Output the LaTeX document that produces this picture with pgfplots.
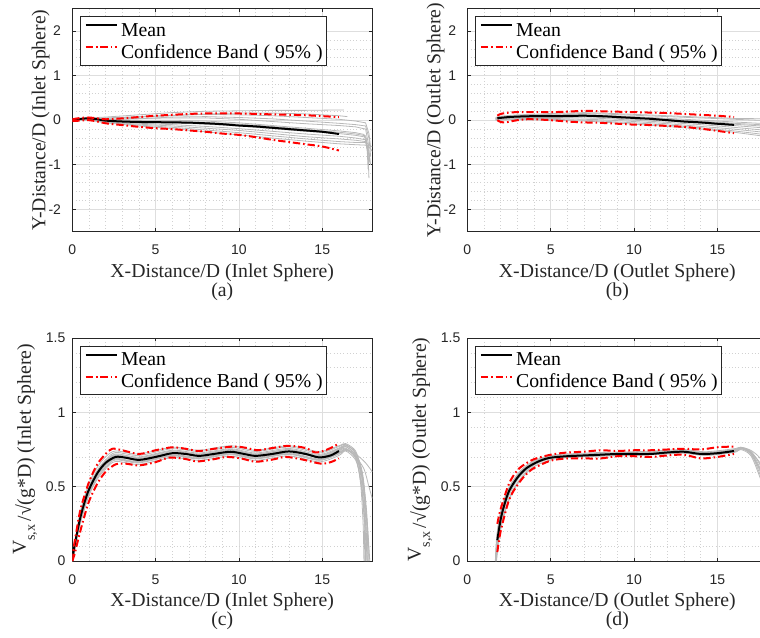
\documentclass[border=0pt]{standalone}
\usepackage{fontspec}
\setmainfont{Liberation Serif}
\newfontfamily\arialfont{Liberation Sans}
\usepackage{pgfplots}
\pgfplotsset{compat=1.18}

\definecolor{axgray}{gray}{0.15}
\definecolor{trajgray}{gray}{0.72}
\definecolor{gridmaj}{gray}{0.87}
\definecolor{gridmin}{gray}{0.82}

\newcommand{\labelfont}{\fontsize{14.8pt}{16pt}\selectfont}

\pgfplotsset{
  panel/.style={
    scale only axis, width=225pt, height=167.25pt,
    xmin=0, xmax=18, xtick={0,5,10,15}, minor x tick num=4, minor y tick num=4,
    tick align=inside, major tick length=2.5pt, minor tick length=0pt,
    grid=both,
    major grid style={gridmaj, line width=0.5pt},
    minor grid style={gridmin, line width=0.45pt, dash pattern=on 0.45pt off 2pt},
    axis line style={axgray, line width=0.55pt},
    every tick/.style={axgray, line width=0.55pt},
    tick label style={font=\arialfont\fontsize{10.5pt}{12pt}\selectfont, text=axgray},
    /pgf/number format/assume math mode=true,
    xticklabel style={anchor=base, inner sep=0pt, yshift=-17.25pt},
    every axis x label/.style={at={(axis description cs:0.5,-0.205)}, anchor=base,
      font=\labelfont, text=axgray},
    legend cell align=left,
    legend style={at={(axis description cs:0.027,0.966)}, anchor=north west,
      draw=axgray, line width=0.5pt, fill=white, inner xsep=3pt, inner ysep=2pt,
      font=\labelfont,
      nodes={inner sep=0pt, text height=13pt, text depth=3.3pt},
      column sep=2pt, row sep=0pt},
    legend image code/.code={\draw[##1] (0pt,3.5pt) -- (23.75pt,3.5pt);},
  },
  panel tag/.style={extra description/.code={
    \node[font=\labelfont, text=axgray, anchor=base] at (axis description cs:0.5,-0.291) {#1};}},
  toprow/.style={panel, ymin=-2.5, ymax=2.5, ytick={-2,-1,0,1,2},
    yticklabel style={anchor=east, inner sep=0pt, xshift=-8.25pt},
    every axis y label/.style={at={(axis description cs:-0.09,0.5)}, rotate=90, anchor=base,
      font=\labelfont, text=axgray}},
  botrow/.style={panel, ymin=0, ymax=1.5, ytick={0,0.5,1,1.5},
    yticklabel style={anchor=east, inner sep=0pt, xshift=-5pt},
    every axis y label/.style={at={(axis description cs:-0.138,0.5)}, rotate=90, anchor=base,
      font=\labelfont, text=axgray}},
  traj/.style={trajgray, line width=0.6pt, forget plot},
  meanline/.style={black, line width=1.5pt, smooth},
  band/.style={red, line width=1.5pt, dash pattern=on 5.5pt off 2.2pt on 1.2pt off 2.2pt, smooth},
}

\newcommand{\vlabel}{\raisebox{3.75pt}{V}\raisebox{-3pt}{\fontsize{10.5pt}{12pt}\selectfont s,x}\,/√(g*D)}

\begin{document}
\begin{tikzpicture}
\path[use as bounding box] (0pt,0pt) rectangle (570pt,477.75pt);
\begin{scope}
\clip (0pt,0pt) rectangle (570pt,477.75pt);

% ---------------- (a) trajectory, inlet sphere ----------------
\begin{axis}[toprow, panel tag={(a)}, at={(54.2pt,304pt)}, anchor=south west,
  xlabel={X-Distance/D (Inlet Sphere)}, ylabel={Y-Distance/D (Inlet Sphere)}]
\addplot[traj] coordinates {(0,0) (1,0.05) (2,0.07) (4,0.12) (6,0.17) (8,0.2) (10,0.21) (12,0.22) (14,0.22) (16.3,0.23)};
\addplot[traj] coordinates {(0,0) (1,0.04) (2,0.05) (4,0.08) (6,0.11) (8,0.13) (10,0.12) (12,0.1) (14,0.06) (16,0.02) (17,-0.02) (17.6,-0.06) (17.8,-0.3) (17.9,-0.6)};
\addplot[traj] coordinates {(0,0) (1,0.04) (2,0.04) (4,0.07) (6,0.1) (8,0.14) (10,0.16) (12,0.16) (14,0.14) (16,0.1) (16.5,0.08)};
\addplot[traj] coordinates {(0,0) (1,0.03) (2,0.02) (4,0.04) (6,0.05) (8,0.05) (10,0.02) (12,-0.03) (14,-0.08) (16,-0.12) (17,-0.15) (17.6,-0.2) (17.75,-0.5) (17.85,-0.9)};
\addplot[traj] coordinates {(0,0) (1,0.03) (2,0.01) (4,0.03) (6,0.07) (8,0.08) (10,0.06) (12,0.03) (14,-0.02) (16,-0.07) (17,-0.1) (17.6,-0.13) (17.8,-0.4) (17.9,-0.8)};
\addplot[traj] coordinates {(0,0) (1,0.03) (2,0.0) (4,0.0) (6,0.0) (8,-0.02) (10,-0.06) (12,-0.12) (14,-0.18) (16,-0.24) (17,-0.28) (17.5,-0.32) (17.7,-0.6) (17.8,-1.0)};
\addplot[traj] coordinates {(0,0) (1,0.02) (2,-0.01) (4,-0.02) (6,-0.03) (8,-0.05) (10,-0.09) (12,-0.14) (14,-0.21) (16,-0.27) (17,-0.31) (17.6,-0.35) (17.7,-0.55) (17.85,-0.95)};
\addplot[traj] coordinates {(0,0) (1,0.02) (2,-0.02) (4,-0.04) (6,-0.06) (8,-0.09) (10,-0.13) (12,-0.19) (14,-0.25) (16,-0.3) (17,-0.34) (17.6,-0.38) (17.75,-0.8) (17.8,-1.3)};
\addplot[traj] coordinates {(0,0) (1,0.02) (2,-0.03) (4,-0.07) (6,-0.1) (8,-0.14) (10,-0.19) (12,-0.25) (14,-0.31) (16,-0.36) (17,-0.4) (17.6,-0.44) (17.7,-0.7) (17.75,-1.1)};
\addplot[traj] coordinates {(0,0) (1,0.01) (2,-0.04) (4,-0.09) (6,-0.13) (8,-0.18) (10,-0.23) (12,-0.3) (14,-0.37) (16,-0.42) (17,-0.45) (17.6,-0.48) (17.8,-0.55) (18,-0.6)};
\addplot[traj] coordinates {(0,0) (1,0.01) (2,-0.05) (4,-0.11) (6,-0.16) (8,-0.22) (10,-0.28) (12,-0.35) (14,-0.42) (16,-0.48) (17,-0.5) (17.6,-0.5) (17.8,-0.7) (17.9,-1.0)};
\addplot[traj] coordinates {(0,0) (1,0.0) (2,-0.06) (4,-0.13) (6,-0.19) (8,-0.26) (10,-0.33) (12,-0.4) (14,-0.47) (16,-0.53) (17,-0.55) (17.6,-0.56) (17.85,-0.62) (18,-0.7)};
\addplot[meanline] coordinates {(0,0) (0.5,0.03) (1,0.04) (1.5,0.02) (2,-0.01) (3,-0.03) (4,-0.04) (5,-0.045) (6,-0.05) (7,-0.055) (8,-0.07) (9,-0.09) (10,-0.12) (11,-0.14) (12,-0.17) (13,-0.2) (14,-0.23) (15,-0.26) (16,-0.31)};
\addlegendentry{Mean}
\addplot[band] coordinates {(0,0.02) (0.5,0.05) (1,0.06) (1.5,0.04) (2,0.02) (3,0.04) (4,0.07) (5,0.1) (6,0.12) (7,0.14) (8,0.15) (10,0.15) (12,0.13) (14,0.11) (15,0.09) (16,0.07)};
\addlegendentry{Confidence Band ( 95\% )}
\addplot[band, forget plot] coordinates {(0,-0.02) (0.5,-0.01) (1,0.0) (1.5,-0.03) (2,-0.07) (3,-0.11) (4,-0.15) (5,-0.18) (6,-0.2) (7,-0.23) (8,-0.26) (9,-0.3) (10,-0.33) (11,-0.38) (12,-0.44) (13,-0.49) (14,-0.54) (15,-0.59) (16,-0.68)};
\end{axis}

% ---------------- (b) trajectory, outlet sphere ----------------
\begin{axis}[toprow, panel tag={(b)}, at={(350.5pt,304pt)}, anchor=south west,
  xlabel={X-Distance/D (Outlet Sphere)}, ylabel={Y-Distance/D (Outlet Sphere)}]
\addplot[traj] coordinates {(1.7,0.05) (2,0.08) (3,0.1) (4,0.12) (5,0.13) (6,0.14) (7,0.15) (8,0.14) (10,0.11) (12,0.08) (14,0.05) (16,0.02) (18,-0.01)};
\addplot[traj] coordinates {(1.7,0.04) (2,0.06) (3,0.09) (4,0.1) (5,0.11) (6,0.12) (7,0.12) (8,0.11) (10,0.08) (12,0.04) (14,0.0) (16,-0.04) (18,-0.08)};
\addplot[traj] coordinates {(1.7,0.03) (2,0.05) (3,0.08) (4,0.09) (5,0.09) (6,0.1) (7,0.1) (8,0.09) (10,0.05) (12,0.01) (14,-0.04) (16,-0.09) (18,-0.14)};
\addplot[traj] coordinates {(1.7,0.03) (2,0.04) (3,0.07) (4,0.07) (5,0.08) (6,0.08) (7,0.08) (8,0.06) (10,0.02) (12,-0.02) (14,-0.07) (16,-0.12) (18,-0.18)};
\addplot[traj] coordinates {(1.7,0.02) (2,0.03) (3,0.05) (4,0.06) (5,0.06) (6,0.06) (7,0.05) (8,0.04) (10,0.0) (12,-0.05) (14,-0.1) (16,-0.16) (18,-0.23)};
\addplot[traj] coordinates {(1.7,0.02) (2,0.02) (3,0.04) (4,0.04) (5,0.04) (6,0.03) (7,0.02) (8,0.01) (10,-0.03) (12,-0.08) (14,-0.14) (16,-0.2) (18,-0.28)};
\addplot[traj] coordinates {(1.7,0.01) (2,0.01) (3,0.03) (4,0.03) (5,0.02) (6,0.01) (7,0.0) (8,-0.02) (10,-0.06) (12,-0.11) (14,-0.17) (16,-0.24) (18,-0.33)};
\addplot[traj] coordinates {(1.7,0.0) (2,0.0) (3,0.02) (4,0.01) (5,0.0) (6,-0.01) (7,-0.02) (8,-0.04) (10,-0.09) (12,-0.14) (14,-0.2) (16,-0.27) (18,-0.37)};
\addplot[traj] coordinates {(1.7,0.06) (2,0.09) (3,0.12) (4,0.13) (5,0.15) (6,0.16) (7,0.17) (8,0.16) (10,0.13) (12,0.1) (14,0.07) (16,0.04) (18,0.03)};
\addplot[traj] coordinates {(1.7,0.03) (2,0.05) (3,0.06) (4,0.08) (5,0.1) (6,0.11) (7,0.11) (8,0.1) (10,0.06) (12,0.02) (14,-0.02) (16,-0.07) (18,-0.11)};
\addplot[meanline] coordinates {(1.8,0.045) (2.5,0.07) (3,0.08) (4,0.09) (5,0.09) (6,0.095) (7,0.1) (8,0.09) (9,0.07) (10,0.05) (11,0.03) (12,0.0) (13,-0.03) (14,-0.05) (15,-0.08) (16,-0.105)};
\addlegendentry{Mean}
\addplot[band] coordinates {(1.8,0.1) (2,0.14) (2.5,0.17) (3,0.18) (4,0.18) (5,0.18) (6,0.19) (7,0.21) (8,0.2) (9,0.19) (10,0.18) (11,0.17) (12,0.16) (13,0.14) (14,0.12) (15,0.1) (16,0.07)};
\addlegendentry{Confidence Band ( 95\% )}
\addplot[band, forget plot] coordinates {(1.8,0.0) (2,-0.04) (2.3,-0.05) (2.7,-0.02) (3,0.0) (3.5,0.02) (4,0.02) (5,0.0) (6,-0.03) (7,-0.05) (8,-0.06) (9,-0.08) (10,-0.1) (11,-0.11) (12,-0.13) (13,-0.15) (14,-0.19) (15,-0.24) (16,-0.29)};
\end{axis}

% ---------------- (c) velocity, inlet sphere ----------------
\begin{axis}[botrow, panel tag={(c)}, at={(54.2pt,57pt)}, anchor=south west,
  xlabel={X-Distance/D (Inlet Sphere)}, ylabel={\vlabel{} (Inlet Sphere)}]
\addplot[traj, smooth] coordinates {(0,0) (0.25,0.19) (0.5,0.34) (1,0.52) (1.5,0.63) (2,0.70) (2.6,0.74) (4,0.72) (6,0.765) (7.6,0.745) (9.5,0.775) (11,0.745) (13,0.775) (14.8,0.737) (16,0.775) (16.4,0.79) (17,0.74) (17.3,0.62) (17.5,0.42) (17.62,0.2) (17.68,0)};
\addplot[traj, smooth] coordinates {(0,0) (0.25,0.18) (0.5,0.32) (1,0.50) (1.5,0.61) (2,0.68) (2.6,0.73) (4,0.71) (6,0.755) (7.6,0.737) (9.5,0.765) (11,0.737) (13,0.767) (14.8,0.727) (16,0.77) (16.4,0.785) (17,0.72) (17.3,0.58) (17.5,0.36) (17.6,0.15) (17.63,0)};
\addplot[traj, smooth] coordinates {(0,0) (0.25,0.17) (0.5,0.31) (1,0.49) (1.5,0.60) (2,0.67) (2.6,0.72) (4,0.70) (6,0.745) (7.6,0.727) (9.5,0.755) (11,0.727) (13,0.757) (14.8,0.717) (16,0.76) (16.4,0.78) (17,0.73) (17.4,0.6) (17.65,0.35) (17.78,0.1) (17.8,0)};
\addplot[traj, smooth] coordinates {(0,0) (0.25,0.16) (0.5,0.30) (1,0.48) (1.5,0.59) (2,0.66) (2.6,0.71) (4,0.69) (6,0.735) (7.6,0.717) (9.5,0.745) (11,0.717) (13,0.747) (14.8,0.707) (16,0.75) (16.4,0.77) (17,0.71) (17.4,0.55) (17.6,0.3) (17.7,0)};
\addplot[traj, smooth] coordinates {(0,0) (0.25,0.17) (0.5,0.30) (1,0.47) (1.5,0.58) (2,0.65) (2.6,0.70) (4,0.68) (6,0.725) (7.6,0.707) (9.5,0.735) (11,0.707) (13,0.737) (14.8,0.697) (16,0.74) (16.4,0.76) (17,0.7) (17.5,0.62) (17.8,0.5) (18,0.42)};
\addplot[traj, smooth] coordinates {(0,0) (0.25,0.15) (0.5,0.28) (1,0.46) (1.5,0.57) (2,0.64) (2.6,0.69) (4,0.67) (6,0.715) (7.6,0.697) (9.5,0.725) (11,0.697) (13,0.727) (14.8,0.687) (16,0.73) (16.4,0.755) (17,0.69) (17.35,0.5) (17.55,0.25) (17.6,0)};
\addplot[traj, smooth] coordinates {(0,0) (0.25,0.14) (0.5,0.27) (1,0.45) (1.5,0.56) (2,0.63) (2.6,0.68) (4,0.66) (6,0.705) (7.6,0.687) (9.5,0.715) (11,0.687) (13,0.717) (14.8,0.677) (16,0.72) (16.4,0.745) (17,0.7) (17.4,0.56) (17.7,0.25) (17.85,0)};
\addplot[traj, smooth] coordinates {(0,0) (0.25,0.13) (0.5,0.26) (1,0.44) (1.5,0.55) (2,0.62) (2.6,0.67) (4,0.65) (6,0.695) (7.6,0.677) (9.5,0.705) (11,0.677) (13,0.707) (14.8,0.667) (16,0.71) (16.4,0.74) (17,0.68) (17.3,0.55) (17.5,0.3) (17.55,0)};
\addplot[traj, smooth] coordinates {(0,0) (0.25,0.16) (0.5,0.29) (1,0.47) (1.5,0.58) (2,0.65) (2.6,0.69) (4,0.665) (6,0.71) (7.6,0.69) (9.5,0.72) (11,0.69) (13,0.72) (14.8,0.68) (16,0.725) (16.4,0.75) (17,0.72) (17.6,0.66) (18,0.6)};
\addplot[traj, smooth] coordinates {(0,0) (0.25,0.18) (0.5,0.31) (1,0.49) (1.5,0.60) (2,0.67) (2.6,0.715) (4,0.695) (6,0.74) (7.6,0.72) (9.5,0.75) (11,0.72) (13,0.75) (14.8,0.71) (16,0.755) (16.4,0.775) (17,0.73) (17.45,0.55) (17.7,0.2) (17.75,0)};
\addplot[traj, smooth] coordinates {(0,0) (0.25,0.15) (0.5,0.29) (1,0.47) (1.5,0.58) (2,0.65) (2.6,0.685) (4,0.665) (6,0.71) (7.6,0.692) (9.5,0.72) (11,0.692) (13,0.722) (14.8,0.682) (16,0.728) (16.4,0.75) (17,0.7) (17.3,0.52) (17.45,0.25) (17.5,0)};
\addplot[traj, smooth] coordinates {(0,0) (0.25,0.17) (0.5,0.31) (1,0.49) (1.5,0.60) (2,0.665) (2.6,0.705) (4,0.685) (6,0.73) (7.6,0.712) (9.5,0.74) (11,0.712) (13,0.742) (14.8,0.702) (16,0.745) (16.4,0.77) (17,0.71) (17.4,0.58) (17.65,0.3) (17.75,0)};
\addplot[meanline] coordinates {(0,0) (0.1,0.08) (0.25,0.17) (0.5,0.3) (0.75,0.4) (1,0.48) (1.5,0.59) (2,0.66) (2.6,0.70) (3.2,0.695) (4,0.68) (5,0.70) (6,0.725) (6.8,0.72) (7.6,0.707) (8.5,0.72) (9.5,0.735) (10.3,0.72) (11,0.707) (12,0.72) (13,0.737) (14,0.72) (14.8,0.697) (15.5,0.71) (16,0.74)};
\addlegendentry{Mean}
\addplot[band] coordinates {(0,0) (0.1,0.1) (0.25,0.2) (0.5,0.35) (1,0.53) (1.5,0.65) (2,0.72) (2.4,0.755) (3,0.745) (4,0.72) (5,0.745) (6,0.765) (6.8,0.755) (7.6,0.74) (8.5,0.755) (9.7,0.77) (10.5,0.76) (11.1,0.745) (12,0.76) (13,0.775) (14,0.76) (14.6,0.73) (15.3,0.75) (16,0.79)};
\addlegendentry{Confidence Band ( 95\% )}
\addplot[band, forget plot] coordinates {(0,0) (0.15,0.05) (0.3,0.12) (0.6,0.25) (1,0.4) (1.5,0.52) (2,0.6) (2.6,0.65) (3.2,0.655) (4,0.643) (5,0.665) (5.8,0.695) (6.7,0.688) (7.5,0.67) (8.4,0.683) (9.3,0.70) (10.2,0.688) (11,0.668) (12,0.682) (12.8,0.70) (13.8,0.683) (14.9,0.655) (15.5,0.665) (16,0.69)};
\end{axis}

% ---------------- (d) velocity, outlet sphere ----------------
\begin{axis}[botrow, panel tag={(d)}, at={(350.5pt,57pt)}, anchor=south west,
  xlabel={X-Distance/D (Outlet Sphere)}, ylabel={\vlabel{} (Outlet Sphere)}]
\addplot[traj, smooth] coordinates {(1.68,0) (1.72,0.1) (1.8,0.2) (2.0,0.33) (2.3,0.44) (2.7,0.53) (3.2,0.61) (4,0.675) (5,0.71) (6,0.72) (8,0.73) (10,0.735) (12,0.745) (13,0.75) (14.3,0.735) (16,0.755) (16.4,0.765) (17,0.74) (17.5,0.66) (18,0.55)};
\addplot[traj, smooth] coordinates {(1.7,0) (1.75,0.08) (1.85,0.18) (2.0,0.29) (2.3,0.41) (2.7,0.51) (3.2,0.59) (4,0.66) (5,0.7) (6,0.71) (8,0.72) (10,0.725) (12,0.735) (13,0.74) (14.3,0.725) (16,0.745) (16.4,0.76) (17,0.72) (17.5,0.62) (18,0.48)};
\addplot[traj, smooth] coordinates {(1.72,0) (1.78,0.08) (1.88,0.17) (2.05,0.28) (2.35,0.4) (2.75,0.5) (3.25,0.58) (4,0.65) (5,0.69) (6,0.7) (8,0.71) (10,0.715) (12,0.725) (13,0.73) (14.3,0.715) (16,0.735) (16.4,0.755) (17,0.73) (17.5,0.67) (18,0.58)};
\addplot[traj, smooth] coordinates {(1.74,0) (1.8,0.07) (1.9,0.15) (2.1,0.26) (2.4,0.38) (2.8,0.48) (3.3,0.56) (4,0.635) (5,0.68) (6,0.695) (8,0.705) (10,0.71) (12,0.72) (13,0.725) (14.3,0.71) (16,0.73) (16.4,0.75) (17,0.71) (17.5,0.58) (18,0.42)};
\addplot[traj, smooth] coordinates {(1.7,0) (1.76,0.1) (1.84,0.2) (2.0,0.31) (2.3,0.43) (2.7,0.52) (3.2,0.6) (4,0.665) (5,0.705) (6,0.715) (8,0.725) (10,0.73) (12,0.74) (13,0.745) (14.3,0.73) (16,0.75) (16.4,0.765) (17,0.745) (17.5,0.7) (18,0.62)};
\addplot[traj, smooth] coordinates {(1.73,0) (1.79,0.09) (1.88,0.19) (2.05,0.3) (2.35,0.42) (2.75,0.51) (3.25,0.59) (4,0.66) (5,0.7) (6,0.705) (8,0.712) (10,0.72) (12,0.728) (13,0.733) (14.3,0.72) (16,0.74) (16.4,0.76) (17,0.735) (17.5,0.64) (18,0.5)};
\addplot[traj, smooth] coordinates {(1.75,0) (1.82,0.08) (1.92,0.17) (2.1,0.28) (2.4,0.39) (2.8,0.49) (3.3,0.57) (4,0.645) (5,0.69) (6,0.7) (8,0.708) (10,0.712) (12,0.722) (13,0.728) (14.3,0.712) (16,0.735) (16.4,0.755) (17,0.725) (17.5,0.6) (18,0.45)};
\addplot[traj, smooth] coordinates {(1.69,0) (1.74,0.11) (1.82,0.21) (1.98,0.32) (2.28,0.44) (2.68,0.53) (3.18,0.6) (4,0.67) (5,0.705) (6,0.713) (8,0.72) (10,0.725) (12,0.733) (13,0.738) (14.3,0.725) (16,0.748) (16.4,0.762) (17,0.73) (17.5,0.63) (18,0.52)};
\addplot[meanline] coordinates {(1.8,0.14) (2.0,0.28) (2.2,0.37) (2.5,0.47) (3,0.56) (3.5,0.62) (4,0.655) (4.5,0.68) (5,0.695) (6,0.705) (7,0.71) (8,0.715) (9,0.72) (10,0.72) (11,0.72) (12,0.73) (13,0.735) (14,0.72) (15,0.725) (16,0.74)};
\addlegendentry{Mean}
\addplot[band] coordinates {(1.8,0.25) (2.0,0.35) (2.5,0.52) (3,0.61) (3.5,0.655) (4,0.685) (5,0.715) (6,0.73) (7,0.735) (8,0.745) (9,0.74) (10,0.745) (11,0.745) (12,0.75) (13,0.755) (14,0.75) (15,0.765) (16,0.77)};
\addlegendentry{Confidence Band ( 95\% )}
\addplot[band, forget plot] coordinates {(1.8,0.06) (2.0,0.2) (2.5,0.41) (3,0.51) (3.5,0.58) (4,0.625) (5,0.675) (6,0.69) (7,0.69) (8,0.69) (9,0.705) (10,0.705) (11,0.70) (12,0.71) (13,0.715) (14,0.69) (15,0.70) (16,0.72)};
\end{axis}

\end{scope}
\end{tikzpicture}
\end{document}
